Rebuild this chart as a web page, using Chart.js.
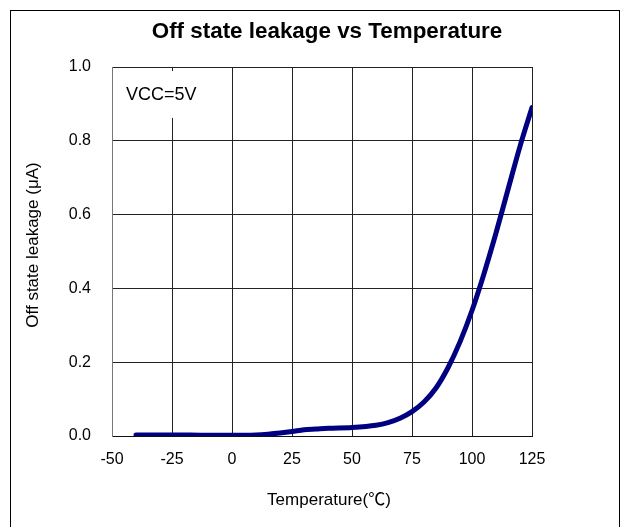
<!DOCTYPE html>
<html>
<head>
<meta charset="utf-8">
<script src="https://cdn.jsdelivr.net/npm/chart.js@4.4.1/dist/chart.umd.min.js"></script>
<style>
html,body{margin:0;padding:0;background:#fff;}
canvas{display:block;}
</style>
</head>
<body>
<canvas id="c" width="623" height="527"></canvas>
<script>
const temperatures = [-40, -25, -10, 0, 10, 15, 20, 25, 30, 35, 40, 50, 60, 65, 70, 75, 80, 85, 90, 95, 100, 105, 110, 115, 120, 125];
const leakage = [0.003, 0.003, 0.002, 0.002, 0.003, 0.005, 0.008, 0.012, 0.017, 0.019, 0.021, 0.023, 0.029, 0.036, 0.048, 0.066, 0.092, 0.13, 0.185, 0.255, 0.34, 0.44, 0.55, 0.668, 0.785, 0.89];
const xTicks = [-50, -25, 0, 25, 50, 75, 100, 125];
const yTicks = [0.0, 0.2, 0.4, 0.6, 0.8, 1.0];
const chartTitle = 'Off state leakage vs Temperature';
const xTitle = 'Temperature(℃)';
const yTitle = 'Off state leakage (μA)';
const noteText = 'VCC=5V';

const FONT = "'Liberation Sans', Arial, 'Noto Sans CJK JP', sans-serif";

const framePlugin = {
  id: 'frame',
  beforeDraw(chart) {
    const ctx = chart.ctx;
    ctx.save();
    ctx.fillStyle = '#fff';
    ctx.fillRect(0, 0, chart.width, chart.height);
    ctx.strokeStyle = '#000';
    ctx.lineWidth = 1;
    ctx.strokeRect(10.5, 10.5, 609, chart.height + 20);
    ctx.restore();
  },
  afterDraw(chart) {
    const ctx = chart.ctx;
    ctx.save();
    ctx.fillStyle = '#000';
    ctx.textAlign = 'center';
    ctx.textBaseline = 'middle';
    ctx.font = 'bold 22.4px ' + FONT;
    ctx.fillText(chartTitle, 327, 32);
    ctx.font = '17px ' + FONT;
    ctx.fillText(xTitle, 329, 500);
    ctx.translate(33.5, 245);
    ctx.rotate(-Math.PI / 2);
    ctx.fillText(yTitle, 0, 0);
    ctx.restore();
  }
};

const notePlugin = {
  id: 'note',
  afterDatasetsDraw(chart) {
    const {ctx, scales: {x, y}} = chart;
    ctx.save();
    const x0 = x.getPixelForValue(-50) + 1;
    const x1 = x.getPixelForValue(-9);
    const y0 = y.getPixelForValue(0.989);
    const y1 = y.getPixelForValue(0.862);
    ctx.fillStyle = '#fff';
    ctx.fillRect(x0, y0, x1 - x0, y1 - y0);
    ctx.fillStyle = '#000';
    ctx.font = '18px ' + FONT;
    ctx.textBaseline = 'middle';
    ctx.textAlign = 'left';
    ctx.fillText(noteText, x.getPixelForValue(-44.2), y.getPixelForValue(0.925));
    ctx.restore();
  }
};

new Chart(document.getElementById('c'), {
  type: 'line',
  data: {
    datasets: [{
      data: temperatures.map((t, i) => ({x: t, y: leakage[i]})),
      borderColor: '#000080',
      borderWidth: 5,
      borderCapStyle: 'round',
      pointRadius: 0,
      fill: false,
      cubicInterpolationMode: 'monotone'
    }]
  },
  options: {
    responsive: false,
    animation: false,
    layout: {padding: {left: 0, right: 91, top: 67, bottom: 0}},
    plugins: {
      legend: {display: false},
      tooltip: {enabled: false},
      title: {display: false}
    },
    scales: {
      x: {
        type: 'linear',
        min: -50, max: 125,
        afterBuildTicks(s) { s.ticks = xTicks.map(v => ({value: v})); },
        afterFit(s) { s.height = 91; s.paddingLeft = 0; s.paddingRight = 0; },
        ticks: {color: '#000', font: {family: FONT, size: 16}, padding: 14, maxRotation: 0},
        grid: {color: '#222', drawTicks: false},
        border: {color: '#111'}
      },
      y: {
        type: 'linear',
        min: 0, max: 1,
        afterBuildTicks(s) { s.ticks = yTicks.map(v => ({value: v})); },
        afterFit(s) { s.width = 112; s.paddingTop = 0; s.paddingBottom = 0; },
        ticks: {color: '#000', font: {family: FONT, size: 16}, padding: 21, callback: v => Number(v).toFixed(1)},
        grid: {color: '#222', drawTicks: false},
        border: {color: '#777'}
      }
    }
  },
  plugins: [framePlugin, notePlugin]
});
</script>
</body>
</html>
